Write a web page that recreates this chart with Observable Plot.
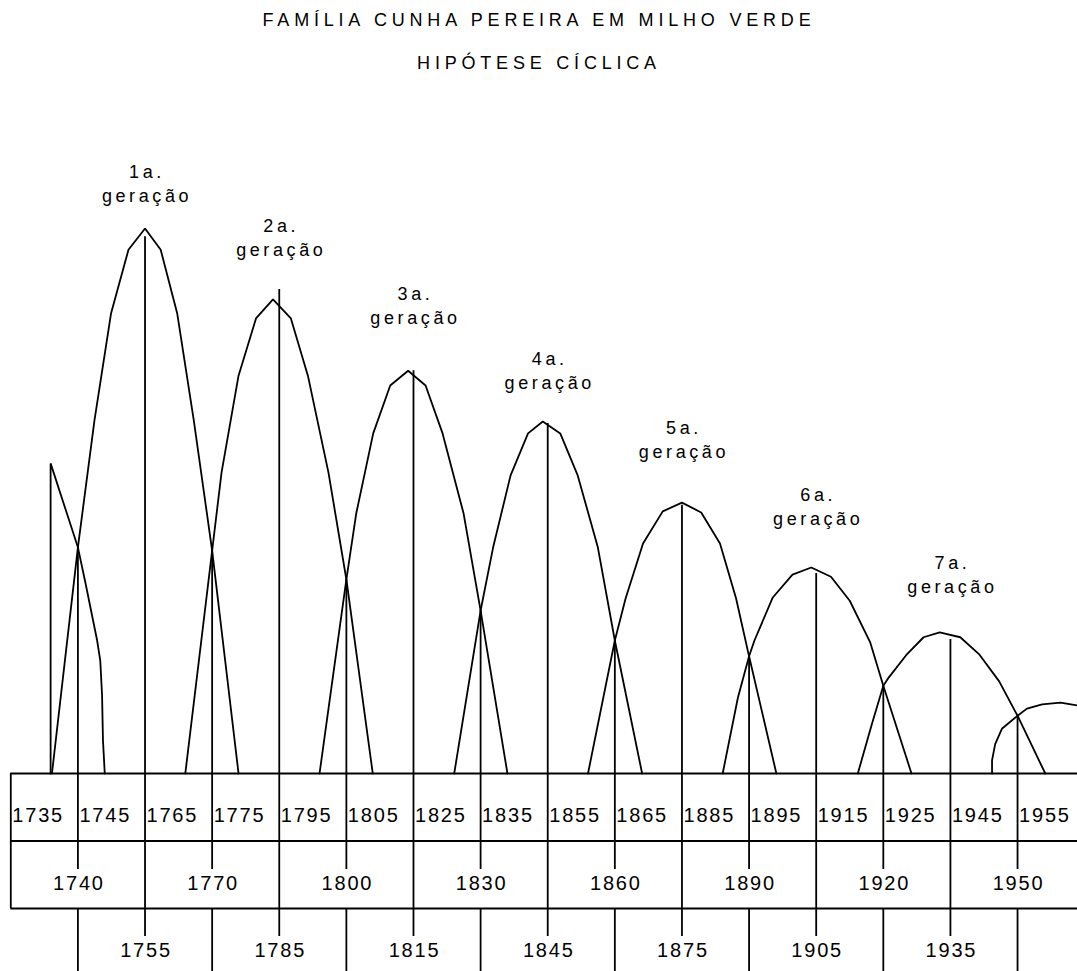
<!DOCTYPE html>
<html>
<head>
<meta charset="utf-8">
<script src="https://cdn.jsdelivr.net/npm/d3@7"></script>
<script src="https://cdn.jsdelivr.net/npm/@observablehq/plot@0.6"></script>
<style>
  body { margin: 0; background: #fff; }
  #chart svg { display: block; }
  #chart g[aria-description="title"] text { letter-spacing: 4.8px; }
  #chart g[aria-description="gen"] text { letter-spacing: 3.6px; }
  #chart g[aria-description="years"] text { letter-spacing: 1.8px; }
</style>
</head>
<body>
<div id="chart"></div>
<script>
// ---- texts ----
const title = "FAMÍLIA CUNHA PEREIRA EM MILHO VERDE";
const subtitle = "HIPÓTESE CÍCLICA";
const generationOrdinals = ["1a.", "2a.", "3a.", "4a.", "5a.", "6a.", "7a."];
const generationWord = "geração";

// ---- generation centres, peak-line tops and label levels (relative height, 1st gen peak = 100) ----
const centerYears = [1755, 1785, 1815, 1845, 1875, 1905, 1935];
const peakLineTops = [98.5, 88.8, 73.9, 64.2, 49.2, 36.7, 24.6];
const labelLevels = [105.9, 96.0, 83.5, 71.6, 58.9, 46.6, 34.1];

// ---- crossing years (generation changes) and the height where curves cross ----
const crossYears = [1740, 1770, 1800, 1830, 1860, 1890, 1920, 1950];
const crossValues = [41.5, 40.9, 35.6, 29.9, 24.4, 21.5, 16.1, 10.6];

// ---- first table row labels (start / end years of the generations) ----
const tableStartYear = 1725;
const rowOneLabels = ["1735", "1745", "1765", "1775", "1795", "1805", "1825", "1835",
                      "1855", "1865", "1885", "1895", "1915", "1925", "1945", "1955"];

// ---- curves: [year, relative height] ----
const gen0 = [[1733.9, 0], [1733.9, 56.9], [1740, 41.5], [1741.7, 34.9], [1744.3, 24.4],
              [1745.0, 20.7], [1745.4, 14.3], [1745.6, 6.1], [1746.0, 0]];
const gen1 = [[1734.2, 0], [1740, 41.5], [1743.7, 64.8], [1747.4, 84.4], [1751.3, 96.1], [1755, 100],
              [1758.5, 96.1], [1762.2, 84.4], [1765.9, 64.8], [1770, 40.9], [1775.9, 0]];
const gen2 = [[1764.0, 0], [1770, 40.9], [1772.1, 55.2], [1775.9, 73.0], [1779.8, 83.5], [1783.6, 87.0],
              [1787.6, 83.5], [1791.4, 73.0], [1796.0, 55.2], [1800, 35.6], [1805.9, 0]];
const gen3 = [[1794.0, 0], [1800, 35.6], [1802.2, 47.7], [1806.0, 62.4], [1809.8, 71.2], [1813.8, 73.9],
              [1817.7, 71.2], [1821.5, 62.4], [1826.2, 47.7], [1830, 29.9], [1836.0, 0]];
const gen4 = [[1824.1, 0], [1830, 29.9], [1832.8, 41.5], [1836.7, 54.7], [1840.6, 62.4], [1843.9, 64.6],
              [1847.8, 62.4], [1851.7, 54.7], [1856.2, 41.5], [1860, 24.4], [1866.1, 0]];
const gen5 = [[1854.0, 0], [1860, 24.4], [1862.4, 32.1], [1866.3, 42.2], [1870.7, 48.1], [1875.0, 49.7],
              [1879.3, 47.9], [1883.5, 42.2], [1887.1, 32.1], [1890, 21.5], [1896.1, 0]];
const gen6 = [[1884.1, 0], [1887.5, 13.9], [1890, 21.5], [1891.2, 24.4], [1895.3, 32.3], [1899.7, 36.5],
              [1903.9, 37.8], [1908.3, 36.1], [1912.5, 31.7], [1917.1, 24.0], [1920, 16.1], [1926.3, 0]];
const gen7 = [[1914.3, 0], [1917.5, 9.2], [1920, 16.1], [1921.2, 17.6], [1925.1, 21.7], [1929.0, 25.0],
              [1932.6, 25.9], [1937.2, 25.0], [1941.5, 21.8], [1945.9, 16.9], [1950, 10.6], [1956.2, 0]];
const gen8 = [[1944.3, 0], [1944.3, 2.4], [1945.0, 5.4], [1946.5, 8.2], [1950, 10.6], [1952.1, 11.9],
              [1955.5, 12.7], [1959.6, 13.0], [1963.4, 12.5]];

// visible span of years
const yearSpan = [1722.7, 1963.4];

// ---- derived tables ----
const generations = [gen0, gen1, gen2, gen3, gen4, gen5, gen6, gen7, gen8];
const curvePoints = generations.flatMap((pts, g) => pts.map(([year, value]) => ({g, year, value})));
const peaks = centerYears.map((year, i) => ({
  year, top: peakLineTops[i], level: labelLevels[i], ordinal: generationOrdinals[i]
}));
const crossings = crossYears.map((year, i) => ({year, value: crossValues[i]}));
const rowOne = rowOneLabels.map(label => {
  const y = +label;
  return {label, cell: tableStartYear + 15 * Math.floor((y - tableStartYear) / 15)};
});

const W = 1077, H = 971;
const BASE = 773;      // baseline (top of the table)
const ROW = 67.5;      // table row height
const SW = 1.8;

const chart = Plot.plot({
  width: W,
  height: H,
  marginTop: 0, marginRight: 0, marginBottom: 0, marginLeft: 0,
  x: {domain: yearSpan, range: [0, W], axis: null},
  y: {domain: [0, 100], range: [BASE, 228], axis: null},
  style: {fontFamily: "'Liberation Sans', Arial, sans-serif", fontSize: "18px", color: "black", background: "white"},
  marks: [
    // titles
    Plot.text([title], {frameAnchor: "top", lineAnchor: "middle", text: d => d, dy: 20, fontSize: 18, ariaDescription: "title"}),
    Plot.text([subtitle], {frameAnchor: "top", lineAnchor: "middle", text: d => d, dy: 63, fontSize: 18, ariaDescription: "title"}),

    // table: horizontal lines
    Plot.ruleY([0], {x1: tableStartYear, x2: yearSpan[1], stroke: "black", strokeWidth: SW}),
    Plot.ruleY([0], {x1: tableStartYear, x2: yearSpan[1], stroke: "black", strokeWidth: SW, dy: ROW}),
    Plot.ruleY([0], {x1: tableStartYear, x2: yearSpan[1], stroke: "black", strokeWidth: SW, dy: 2 * ROW}),
    // table left border
    Plot.ruleX([tableStartYear], {x: d => d, y1: 0, y2: 0, insetBottom: -2 * ROW, stroke: "black", strokeWidth: SW}),

    // peak lines: from near the peak down into the third row
    Plot.ruleX(peaks, {x: "year", y1: "top", y2: 0, insetBottom: -163, stroke: "black", strokeWidth: SW}),
    // crossing lines: from the crossing down into the second row
    Plot.ruleX(crossings, {x: "year", y1: "value", y2: 0, insetBottom: -96, stroke: "black", strokeWidth: SW}),
    // crossing lines below the table
    Plot.ruleX(crossings, {x: "year", y1: 0, y2: 0, insetTop: 2 * ROW, insetBottom: -(H - BASE), stroke: "black", strokeWidth: SW}),

    // generation curves
    Plot.line(curvePoints, {x: "year", y: "value", z: "g", stroke: "black", strokeWidth: SW, curve: "linear", strokeLinejoin: "miter"}),

    // generation labels
    Plot.text(peaks, {x: "year", y: "level", text: "ordinal", dy: -24, dx: 2, fontSize: 18, ariaDescription: "gen"}),
    Plot.text(peaks, {x: "year", y: "level", text: () => generationWord, dx: 2, fontSize: 18, ariaDescription: "gen"}),

    // table labels
    Plot.text(rowOne, {x: "cell", y: 0, text: "label", textAnchor: "start", dx: 1.5, dy: 42, fontSize: 20, ariaDescription: "years"}),
    Plot.text(crossings, {x: "year", y: 0, text: d => String(d.year), dy: 110, dx: 1, fontSize: 20, ariaDescription: "years"}),
    Plot.text(peaks, {x: "year", y: 0, text: d => String(d.year), dy: 177, dx: 1, fontSize: 20, ariaDescription: "years"})
  ]
});
document.getElementById("chart").appendChild(chart);
</script>
</body>
</html>
